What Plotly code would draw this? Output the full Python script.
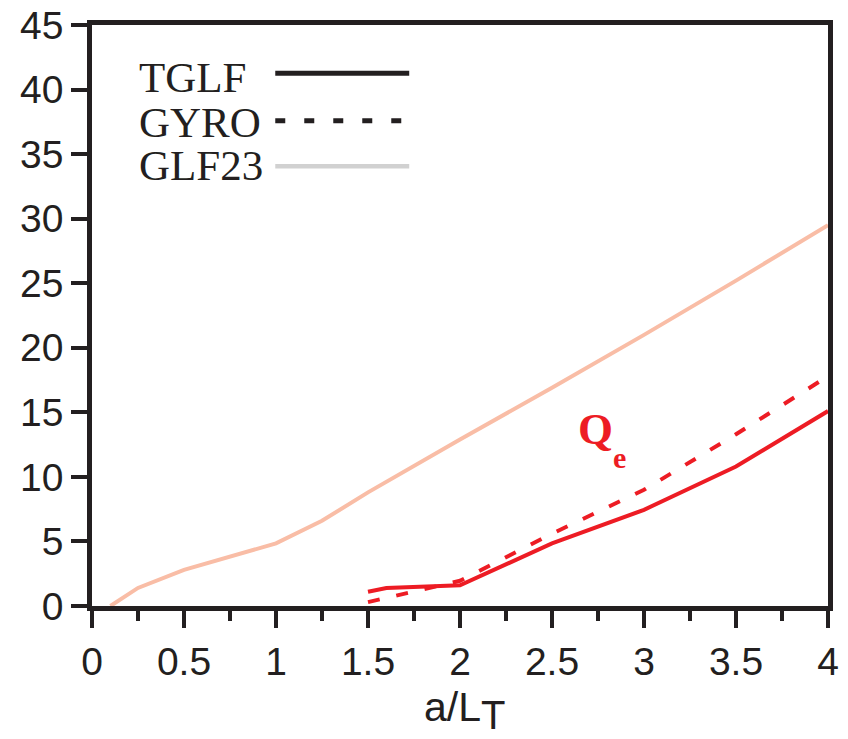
import plotly.graph_objects as go

# GLF23 electron heat flux vs a/L_T
glf23_x = [0.1, 0.25, 0.5, 1.0, 1.25, 1.5, 2.0, 2.5, 3.0, 3.5, 4.0]
glf23_y = [0.0, 1.4, 2.8, 4.85, 6.6, 8.8, 12.9, 16.9, 21.0, 25.2, 29.5]

# TGLF electron heat flux
tglf_x = [1.5, 1.6, 2.0, 2.5, 3.0, 3.5, 4.0]
tglf_y = [1.1, 1.4, 1.6, 4.85, 7.45, 10.8, 15.1]

# GYRO electron heat flux
gyro_x = [1.5, 2.0, 2.5, 3.0, 3.5, 4.0]
gyro_y = [0.3, 1.95, 5.6, 9.0, 13.3, 17.8]

x_ticks = [0, 0.5, 1, 1.5, 2, 2.5, 3, 3.5, 4]
x_labels = ["0", "0.5", "1", "1.5", "2", "2.5", "3", "3.5", "4"]
y_ticks = list(range(0, 50, 5))

legend_names = ["TGLF", "GYRO", "GLF23"]
legend_colors = ["#231F20", "#231F20", "#D1D1D1"]
legend_dash = ["solid", "dash", "solid"]
legend_width = [5, 5, 4.5]

RED = "#ED1C24"
SALMON = "#F9BDA6"
AXIS = "#231F20"
SANS = "Liberation Sans"
SERIF = "Liberation Serif"

fig = go.Figure()
fig.add_trace(go.Scatter(x=glf23_x, y=glf23_y, mode="lines",
                         line=dict(color=SALMON, width=4), showlegend=False))
fig.add_trace(go.Scatter(x=gyro_x, y=gyro_y, mode="lines",
                         line=dict(color=RED, width=4, dash="12px,17px"), showlegend=False))
fig.add_trace(go.Scatter(x=tglf_x, y=tglf_y, mode="lines",
                         line=dict(color=RED, width=4), showlegend=False))

# Legend: name on the left, line sample on the right
text_y = [0.909, 0.832, 0.759]
line_y = [0.917, 0.835, 0.757]
for name, col, dash, w, ty, ly in zip(legend_names, legend_colors, legend_dash,
                                      legend_width, text_y, line_y):
    fig.add_annotation(x=0.061, y=ty, xref="paper", yref="paper", text=name,
                       showarrow=False, xanchor="left", yanchor="middle",
                       font=dict(family=SERIF, size=43, color=AXIS))
    fig.add_shape(type="line", xref="paper", yref="paper",
                  x0=0.249, x1=0.431, y0=ly, y1=ly,
                  line=dict(color=col, width=w,
                            dash=("10px,19px" if dash == "dash" else "solid")))

# Q_e label
fig.add_annotation(x=2.63, y=13.7, xref="x", yref="y", text="<b>Q</b>",
                   showarrow=False, xanchor="left", yanchor="middle",
                   font=dict(family=SERIF, size=45, color=RED))
fig.add_annotation(x=2.82, y=11.5, xref="x", yref="y", text="<b>e</b>",
                   showarrow=False, xanchor="left", yanchor="middle",
                   font=dict(family=SERIF, size=30, color=RED))

# x-axis title a/L_T with a full-size, lowered subscript
fig.add_annotation(x=0.449, y=-0.173, xref="paper", yref="paper", text="a/L",
                   showarrow=False, xanchor="left", yanchor="middle",
                   font=dict(family=SANS, size=41, color=AXIS))
fig.add_annotation(x=0.526, y=-0.2285, xref="paper", yref="paper", text="T",
                   showarrow=False, xanchor="left", yanchor="bottom",
                   font=dict(family=SANS, size=40, color=AXIS))

fig.update_xaxes(range=[0, 4], tickvals=x_ticks, ticktext=x_labels,
                 ticks="outside", ticklen=17, tickwidth=4, tickcolor=AXIS,
                 showline=True, linewidth=4.5, linecolor=AXIS, mirror=True,
                 showgrid=False, zeroline=False, automargin=False,
                 minor=dict(dtick=0.25, tick0=0, ticks="outside", ticklen=10,
                            tickwidth=4, tickcolor=AXIS),
                 tickfont=dict(family=SANS, size=39, color=AXIS))
fig.update_yaxes(range=[0, 45], tickvals=y_ticks,
                 ticks="outside", ticklen=16, tickwidth=4, tickcolor=AXIS,
                 showline=True, linewidth=4.5, linecolor=AXIS, mirror=True,
                 showgrid=False, zeroline=False, automargin=False,
                 tickfont=dict(family=SANS, size=39, color=AXIS))

fig.update_layout(width=848, height=739,
                  margin=dict(l=92, r=20, t=25, b=133),
                  plot_bgcolor="white", paper_bgcolor="white",
                  showlegend=False)

fig.write_html("out.html")
